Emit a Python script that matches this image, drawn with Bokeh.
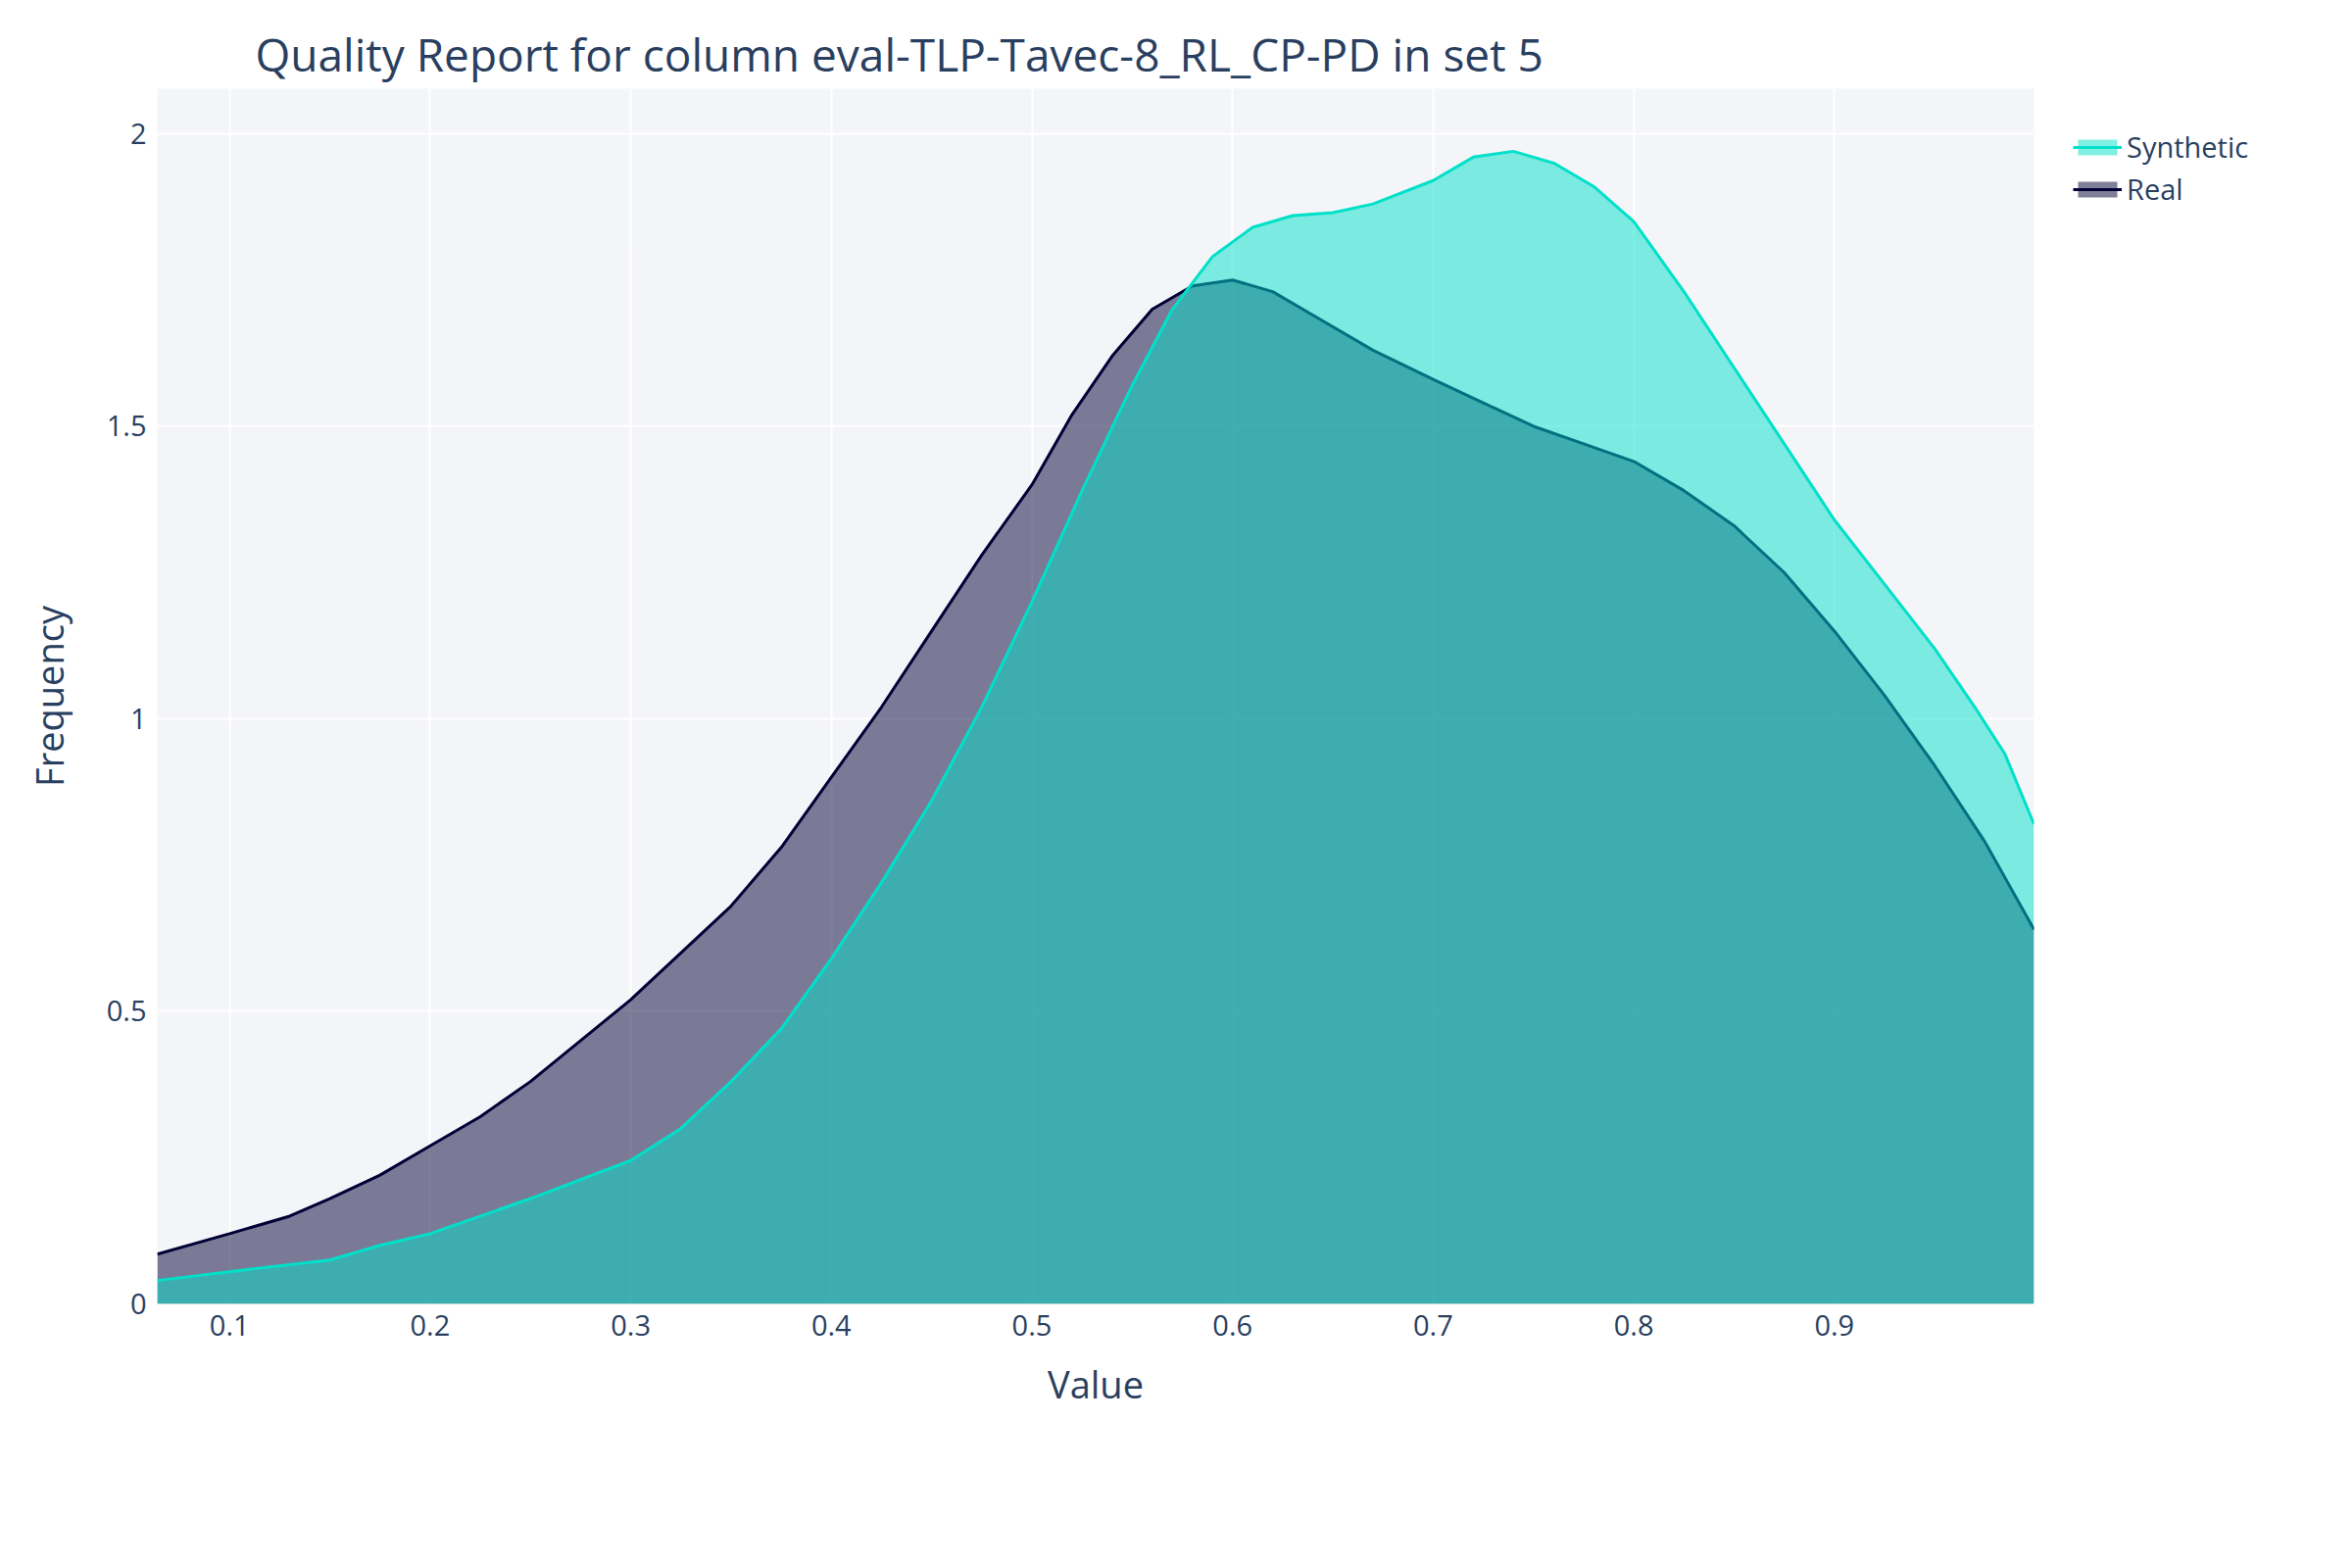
from bokeh.models import ColumnDataSource, FixedTicker, Legend, LegendItem, Range1d
from bokeh.plotting import figure
from bokeh.embed import file_html
from bokeh.resources import INLINE

# 読み取った値
real_x = [0.064, 0.1, 0.13, 0.15, 0.175, 0.2, 0.225, 0.25, 0.275, 0.3, 0.325, 0.35, 0.375, 0.4, 0.425, 0.45, 0.475, 0.5, 0.52, 0.54, 0.56, 0.58, 0.6, 0.62, 0.64, 0.67, 0.7, 0.725, 0.75, 0.775, 0.8, 0.825, 0.85, 0.875, 0.9, 0.925, 0.95, 0.975, 0.9995]
real_y = [0.085, 0.12, 0.15, 0.18, 0.22, 0.27, 0.32, 0.38, 0.45, 0.52, 0.6, 0.68, 0.78, 0.9, 1.02, 1.15, 1.28, 1.40, 1.52, 1.62, 1.70, 1.74, 1.75, 1.73, 1.69, 1.63, 1.58, 1.54, 1.50, 1.47, 1.44, 1.39, 1.33, 1.25, 1.15, 1.04, 0.92, 0.79, 0.64]
syn_x = [0.064, 0.1, 0.15, 0.175, 0.2, 0.25, 0.3, 0.325, 0.35, 0.375, 0.4, 0.425, 0.45, 0.475, 0.5, 0.525, 0.55, 0.57, 0.59, 0.61, 0.63, 0.65, 0.67, 0.7, 0.72, 0.74, 0.76, 0.78, 0.8, 0.825, 0.85, 0.875, 0.9, 0.925, 0.95, 0.97, 0.985, 0.9995]
syn_y = [0.04, 0.055, 0.075, 0.1, 0.12, 0.18, 0.245, 0.3, 0.38, 0.47, 0.59, 0.72, 0.86, 1.02, 1.2, 1.39, 1.57, 1.7, 1.79, 1.84, 1.86, 1.865, 1.88, 1.92, 1.96, 1.97, 1.95, 1.91, 1.85, 1.73, 1.6, 1.47, 1.34, 1.23, 1.12, 1.02, 0.94, 0.82]

src_r = ColumnDataSource(data=dict(x=real_x, y=real_y, z=[0] * len(real_x)))
src_s = ColumnDataSource(data=dict(x=syn_x, y=syn_y, z=[0] * len(syn_x)))

p = figure(frame_width=1915, frame_height=1240, output_backend="svg", toolbar_location=None,
           x_range=Range1d(0.064, 0.9995), y_range=Range1d(0, 2.077),
           title="Quality Report for column eval-TLP-Tavec-8_RL_CP-PD in set 5",
           x_axis_label="Value", y_axis_label="Frequency",
           min_border_left=160, min_border_right=10, min_border_top=90, min_border_bottom=150)
p.background_fill_color = "#f4f5f8"
p.border_fill_color = "white"
p.outline_line_color = None
p.title.text_font = "Open Sans"
p.title.text_font_size = "46px"
p.title.text_font_style = "normal"
p.title.text_color = "#2a3f5f"
p.title.offset = 100
p.xgrid.grid_line_color = "white"
p.ygrid.grid_line_color = "white"
p.xgrid.grid_line_width = 2
p.ygrid.grid_line_width = 2

for ax in (p.xaxis[0], p.yaxis[0]):
    ax.axis_line_color = None
    ax.major_tick_line_color = None
    ax.minor_tick_line_color = None
    ax.major_label_text_font = "Open Sans"
    ax.major_label_text_font_size = "29px"
    ax.major_label_text_color = "#2a3f5f"
    ax.axis_label_text_font = "Open Sans"
    ax.axis_label_text_font_size = "38px"
    ax.axis_label_text_font_style = "normal"
    ax.axis_label_text_color = "#2a3f5f"
p.xaxis.ticker = FixedTicker(ticks=[0.1, 0.2, 0.3, 0.4, 0.5, 0.6, 0.7, 0.8, 0.9])
p.yaxis.ticker = FixedTicker(ticks=[0, 0.5, 1, 1.5, 2])
p.yaxis.major_label_overrides = {0: "0", 0.5: "0.5", 1: "1", 1.5: "1.5", 2: "2"}
p.xaxis.axis_label_standoff = 20
p.yaxis.axis_label_standoff = 30

ra = p.varea("x", "z", "y", source=src_r, fill_color="#000036", fill_alpha=0.5)
rl = p.line("x", "y", source=src_r, line_color="#000036", line_width=3)
sa = p.varea("x", "z", "y", source=src_s, fill_color="#01e0c9", fill_alpha=0.5)
sl = p.line("x", "y", source=src_s, line_color="#01e0c9", line_width=3)

legend = Legend(items=[LegendItem(label="Synthetic", renderers=[sa, sl]),
                       LegendItem(label="Real", renderers=[ra, rl])],
                location="top_left", border_line_color=None, background_fill_alpha=0,
                label_text_font="Open Sans", label_text_font_size="29px",
                label_text_color="#2a3f5f", glyph_width=50, spacing=4, margin=40)
p.add_layout(legend, "right")

open("out.html", "w").write(file_html(p, INLINE))
